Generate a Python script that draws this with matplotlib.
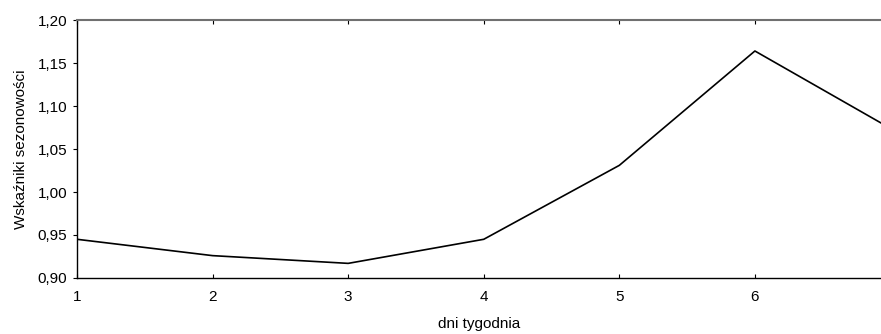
import matplotlib
matplotlib.use('Agg')
import matplotlib.pyplot as plt
from matplotlib.ticker import FuncFormatter

plt.rcParams['font.family'] = ['Liberation Sans', 'DejaVu Sans']
plt.rcParams['font.size'] = 11

days = [1, 2, 3, 4, 5, 6, 7]
seasonal_index = [0.945, 0.926, 0.917, 0.945, 1.031, 1.164, 1.074]
y_ticks = [0.90, 0.95, 1.00, 1.05, 1.10, 1.15, 1.20]
x_ticks = [1, 2, 3, 4, 5, 6]

fig = plt.figure(figsize=(8.81, 3.34), dpi=100)
ax = fig.add_axes([0.0874, 0.1677, 0.9126, 0.7723])
ax.plot(days, seasonal_index, color='black', linewidth=1.2)

ax.set_xlim(1, 6.93)
ax.set_ylim(0.90, 1.20)
ax.set_xticks(x_ticks)
ax.set_yticks(y_ticks)
ax.yaxis.set_major_formatter(FuncFormatter(lambda v, p: f'{v:.2f}'.replace('.', ',')))

ax.spines['right'].set_visible(False)
ax.spines['top'].set_color('#707070')
ax.spines['top'].set_linewidth(1.5)
ax.spines['left'].set_linewidth(1.0)
ax.spines['bottom'].set_linewidth(1.0)

ax.tick_params(axis='x', direction='in', top=True, length=3, pad=9, width=0.8)
ax.tick_params(axis='y', direction='out', length=3, width=0.8, pad=4)

ax.set_xlabel('dni tygodnia', labelpad=9)
ax.set_ylabel('Wskaźniki sezonowości', labelpad=7)

plt.savefig('out.png', dpi=100)
